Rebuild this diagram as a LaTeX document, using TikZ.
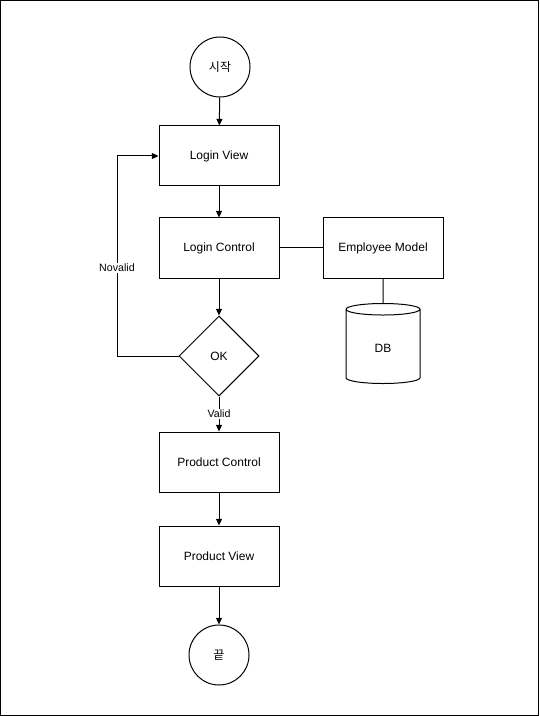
\documentclass[tikz,border=0pt]{standalone}
\usepackage{fontspec}
\setmainfont{Liberation Sans}
\newfontfamily\kofont{Noto Sans CJK KR}
\usetikzlibrary{shapes.geometric,arrows.meta,positioning}

\begin{document}
\begin{tikzpicture}[
    x=0.75pt, y=-0.75pt,
    line width=0.75pt,
    every node/.style={font=\fontsize{9}{11}\selectfont},
    boite/.style={draw, minimum width=90pt, minimum height=45pt},
    terminal/.style={draw, circle, minimum size=45pt},
    decision/.style={draw, diamond, minimum width=60pt, minimum height=60pt, inner sep=0pt},
    base/.style={draw, cylinder, shape border rotate=90, aspect=0.45, minimum width=55.5pt, minimum height=60pt},
    fleche/.style={draw, -{Triangle[length=5pt,width=4.5pt]}},
    etiquette/.style={fill=white, inner sep=1pt, font=\fontsize{8}{10}\selectfont},
]

% Cadre
\useasboundingbox (0,0) rectangle (539,716);
\draw (0.5,0.5) rectangle (538.5,715.5);

% Noeuds principaux
\node[terminal] (debut) at (220,67) {\kofont 시작};
\node[boite] (lview) at (219,156) {Login View};
\node[boite] (lctrl) at (219,248) {Login Control};
\node[boite] (emp) at (383,248) {Employee Model};
\node[base] (db) at (383,348) {DB};
\node[decision] (ok) at (219,356) {OK};
\node[boite] (pctrl) at (219,462) {Product Control};
\node[boite] (pview) at (219,556) {Product View};
\node[terminal] (fin) at (219,655) {\kofont 끝};

% Liaisons
\draw[fleche] (debut) -- (lview);
\draw[fleche] (lview) -- (lctrl);
\draw (lctrl) -- (emp);
\draw (emp) -- (db);
\draw[fleche] (lctrl) -- (ok);
\coordinate (coin) at (117,356);
\draw[fleche] (ok.west) -- (coin) |- node[etiquette, pos=0.22] (novalid) {Novalid} (lview.west);
\draw[fleche] (ok) -- node[etiquette] (valid) {Valid} (pctrl);
\draw[fleche] (pctrl) -- (pview);
\draw[fleche] (pview) -- (fin);

\end{tikzpicture}
\end{document}
